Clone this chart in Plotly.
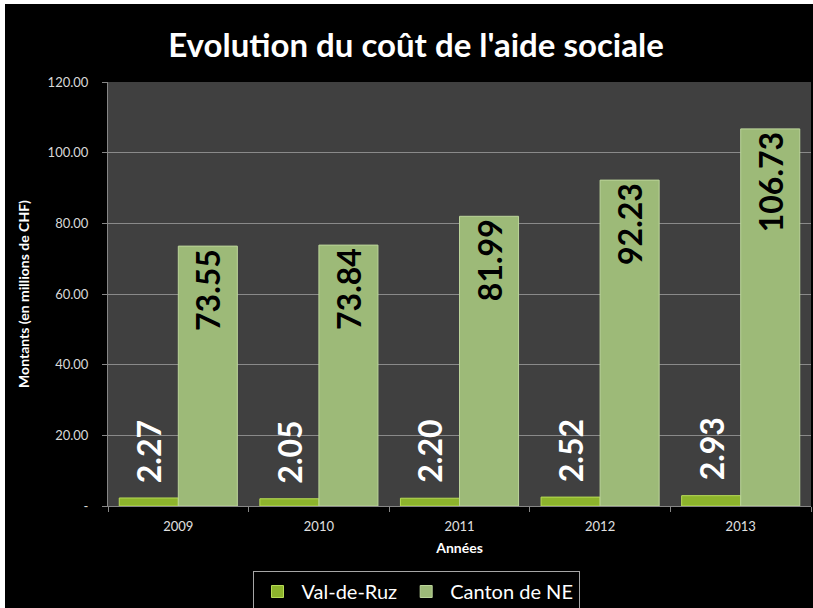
import plotly.graph_objects as go

years = ["2009", "2010", "2011", "2012", "2013"]
val_de_ruz = [2.27, 2.05, 2.20, 2.52, 2.93]
canton_ne = [73.55, 73.84, 81.99, 92.23, 106.73]
y_ticks = [0, 20, 40, 60, 80, 100, 120]
y_tick_labels = ["-", "20.00", "40.00", "60.00", "80.00", "100.00", "120.00"]

FONT = "Lato"
W, H = 808, 604

fig = go.Figure()
fig.add_trace(go.Bar(
    x=years, y=val_de_ruz, name="Val-de-Ruz",
    marker=dict(color="#8db42c", line=dict(color="#b7dc55", width=1)),
))
fig.add_trace(go.Bar(
    x=years, y=canton_ne, name="Canton de NE",
    marker=dict(color="#9dba78", line=dict(color="#bcd59a", width=1)),
    text=[f"{v:.2f}" for v in canton_ne], textposition="inside", insidetextanchor="end",
    textangle=-90, textfont=dict(family=FONT, size=32, color="black", weight="bold"),
    constraintext="none",
))

# Val-de-Ruz labels sit a bit above the small bars
# (category index used for x: numeric-looking strings would be read as indices)
for i, v in enumerate(val_de_ruz):
    fig.add_annotation(x=i, y=v, text=f"<b>{v:.2f}</b>", showarrow=False, textangle=-90,
                       xshift=-29.5, yshift=13, yanchor="bottom", xanchor="center",
                       font=dict(family=FONT, size=32, color="white"))

fig.update_layout(
    width=W, height=H,
    margin=dict(l=103, r=2, t=78, b=102),
    paper_bgcolor="black", plot_bgcolor="#404040",
    font=dict(family=FONT, color="white"),
    title=dict(text="<b>Evolution du coût de l'aide sociale</b>", x=(416 - 5) / W, xref="container",
               xanchor="center", y=1 - 41 / H, yref="container", yanchor="middle",
               font=dict(size=33, color="white", family=FONT)),
    barmode="group", bargap=0.16, bargroupgap=0,
    showlegend=True,
    legend=dict(orientation="h", xref="container", x=(416 - 5) / W, xanchor="center",
                yref="container", y=1 - (571 - 4) / H, yanchor="top",
                bordercolor="#a6a6a6", borderwidth=1, bgcolor="black",
                font=dict(size=20, color="white", family=FONT), itemwidth=38),
)
fig.update_xaxes(
    type="category",
    title=dict(text="<b>Années</b>", font=dict(size=14, color="white"), standoff=10),
    tickfont=dict(size=13, color="#e0e0e0"), ticklabelstandoff=8,
    showline=True, linecolor="#868686", linewidth=1,
    ticks="outside", tickson="boundaries", ticklen=5, tickcolor="#868686",
    showgrid=False,
)
fig.update_yaxes(
    title=dict(text="<b>Montants (en millions de CHF)</b>", font=dict(size=14, color="white"), standoff=14),
    range=[0, 120], tickvals=y_ticks, ticktext=y_tick_labels,
    tickfont=dict(size=13, color="#d9d9d9"), ticklabelstandoff=11,
    showline=True, linecolor="#868686", linewidth=1,
    ticks="outside", ticklen=5, tickcolor="#868686",
    showgrid=True, gridcolor="#8a8a8a", gridwidth=1, zeroline=False,
)

# thin white frame at top/left as in the original screenshot
fig.write_html("out.html", post_script="document.body.style.margin='4px 0 0 5px';document.body.style.overflow='hidden';")
